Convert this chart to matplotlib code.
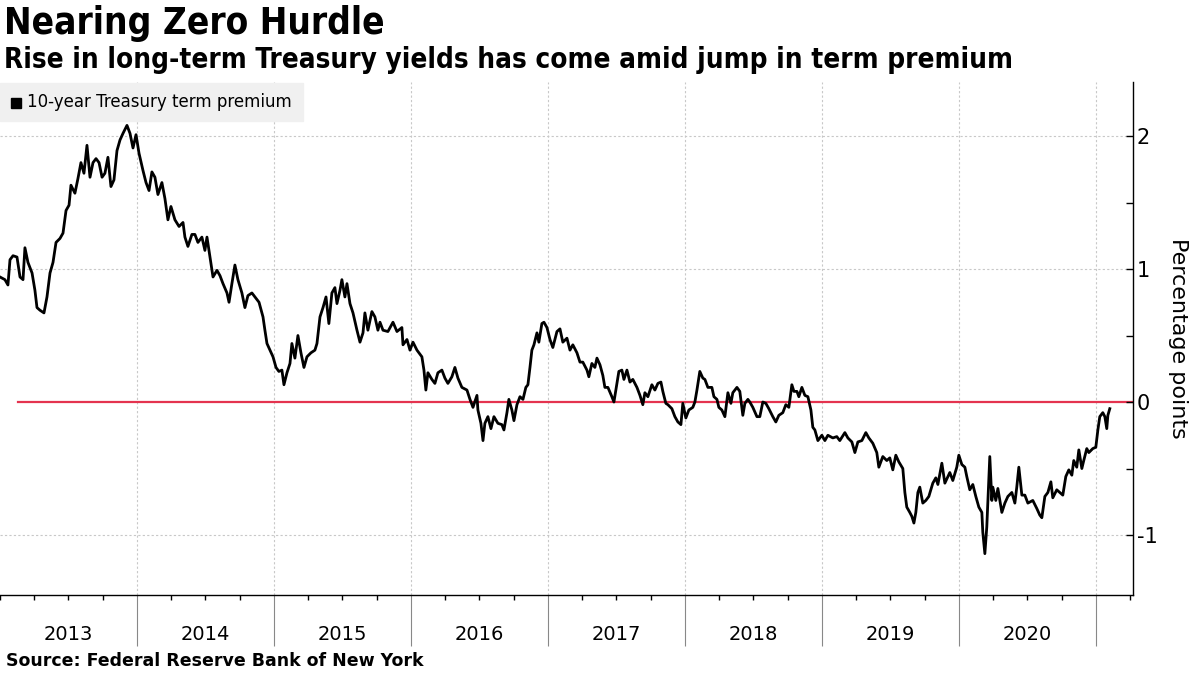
import numpy as np
import matplotlib
matplotlib.use("Agg")
import matplotlib.pyplot as plt
from matplotlib.ticker import FixedLocator, NullFormatter
import matplotlib.transforms as mtransforms

# 10-year Treasury term premium (time in years since 2013-01-01)
years_since_2013 = [
    0.000, 0.036, 0.058, 0.073, 0.095, 0.124, 0.146, 0.168, 0.182, 0.204,
    0.234, 0.255, 0.270, 0.292, 0.321, 0.343, 0.365, 0.387, 0.409, 0.438,
    0.460, 0.482, 0.504, 0.518, 0.547, 0.569, 0.591, 0.613, 0.635, 0.657,
    0.679, 0.701, 0.723, 0.745, 0.766, 0.788, 0.810, 0.832, 0.854, 0.876,
    0.898, 0.927, 0.949, 0.971, 0.993, 1.015, 1.044, 1.066, 1.088, 1.109,
    1.131, 1.153, 1.182, 1.204, 1.226, 1.248, 1.277, 1.307, 1.336, 1.350,
    1.372, 1.401, 1.423, 1.445, 1.474, 1.496, 1.511, 1.533, 1.555, 1.584,
    1.606, 1.628, 1.657, 1.672, 1.693, 1.715, 1.737, 1.766, 1.788, 1.810,
    1.839, 1.861, 1.891, 1.920, 1.934, 1.949, 1.971, 1.993, 2.015, 2.036,
    2.058, 2.073, 2.095, 2.117, 2.131, 2.153, 2.175, 2.197, 2.219, 2.241,
    2.270, 2.299, 2.314, 2.336, 2.358, 2.380, 2.401, 2.423, 2.445, 2.460,
    2.482, 2.496, 2.518, 2.533, 2.555, 2.577, 2.606, 2.628, 2.650, 2.664,
    2.686, 2.715, 2.737, 2.759, 2.774, 2.796, 2.832, 2.869, 2.898, 2.934,
    2.942, 2.971, 2.993, 3.015, 3.044, 3.080, 3.095, 3.109, 3.124, 3.153,
    3.175, 3.197, 3.226, 3.248, 3.270, 3.299, 3.321, 3.343, 3.372, 3.409,
    3.431, 3.453, 3.482, 3.489, 3.511, 3.526, 3.540, 3.562, 3.584, 3.606,
    3.635, 3.664, 3.679, 3.701, 3.715, 3.737, 3.752, 3.774, 3.796, 3.818,
    3.839, 3.854, 3.869, 3.883, 3.898, 3.920, 3.934, 3.956, 3.971, 3.993,
    4.015, 4.036, 4.066, 4.088, 4.109, 4.139, 4.161, 4.182, 4.212, 4.234,
    4.255, 4.285, 4.299, 4.321, 4.343, 4.358, 4.380, 4.401, 4.416, 4.438,
    4.467, 4.482, 4.504, 4.518, 4.540, 4.555, 4.577, 4.599, 4.620, 4.650,
    4.672, 4.693, 4.708, 4.730, 4.759, 4.781, 4.803, 4.825, 4.839, 4.861,
    4.876, 4.905, 4.927, 4.949, 4.971, 4.985, 5.007, 5.029, 5.058, 5.073,
    5.088, 5.109, 5.131, 5.146, 5.168, 5.197, 5.212, 5.234, 5.248, 5.270,
    5.292, 5.314, 5.336, 5.350, 5.380, 5.401, 5.423, 5.438, 5.460, 5.474,
    5.496, 5.526, 5.547, 5.569, 5.591, 5.613, 5.642, 5.664, 5.686, 5.715,
    5.737, 5.759, 5.781, 5.796, 5.818, 5.832, 5.854, 5.876, 5.898, 5.920,
    5.934, 5.949, 5.971, 6.000, 6.022, 6.044, 6.080, 6.109, 6.131, 6.168,
    6.190, 6.219, 6.241, 6.263, 6.292, 6.321, 6.343, 6.372, 6.401, 6.416,
    6.445, 6.474, 6.496, 6.518, 6.540, 6.562, 6.591, 6.606, 6.620, 6.642,
    6.657, 6.672, 6.686, 6.701, 6.715, 6.737, 6.759, 6.781, 6.810, 6.832,
    6.847, 6.876, 6.898, 6.934, 6.956, 6.985, 7.000, 7.022, 7.044, 7.058,
    7.080, 7.102, 7.124, 7.146, 7.168, 7.175, 7.190, 7.204, 7.212, 7.226,
    7.241, 7.248, 7.270, 7.285, 7.314, 7.336, 7.358, 7.387, 7.409, 7.423,
    7.438, 7.460, 7.482, 7.504, 7.540, 7.569, 7.591, 7.606, 7.628, 7.650,
    7.672, 7.686, 7.715, 7.737, 7.759, 7.781, 7.803, 7.825, 7.839, 7.861,
    7.876, 7.898, 7.912, 7.934, 7.949, 7.978, 8.000, 8.015, 8.029, 8.051,
    8.066, 8.080, 8.088, 8.102,
]
term_premium = [
    0.94, 0.92, 0.88, 1.07, 1.10, 1.09, 0.94, 0.92, 1.16, 1.05,
    0.97, 0.84, 0.71, 0.69, 0.67, 0.79, 0.97, 1.05, 1.20, 1.23,
    1.27, 1.44, 1.48, 1.63, 1.57, 1.68, 1.80, 1.72, 1.93, 1.69,
    1.80, 1.83, 1.80, 1.69, 1.72, 1.84, 1.62, 1.67, 1.89, 1.97,
    2.02, 2.08, 2.02, 1.91, 2.01, 1.87, 1.74, 1.65, 1.59, 1.73,
    1.69, 1.56, 1.65, 1.53, 1.37, 1.47, 1.37, 1.32, 1.35, 1.24,
    1.17, 1.26, 1.26, 1.20, 1.24, 1.14, 1.24, 1.09, 0.94, 0.99,
    0.95, 0.89, 0.82, 0.75, 0.89, 1.03, 0.92, 0.82, 0.71, 0.80,
    0.82, 0.79, 0.75, 0.64, 0.54, 0.44, 0.39, 0.34, 0.26, 0.23,
    0.24, 0.13, 0.22, 0.29, 0.44, 0.33, 0.50, 0.37, 0.26, 0.34,
    0.37, 0.39, 0.44, 0.64, 0.71, 0.79, 0.59, 0.82, 0.86, 0.74,
    0.84, 0.92, 0.79, 0.89, 0.74, 0.67, 0.54, 0.45, 0.52, 0.67,
    0.54, 0.68, 0.64, 0.54, 0.60, 0.54, 0.53, 0.60, 0.53, 0.56,
    0.43, 0.47, 0.39, 0.45, 0.39, 0.34, 0.24, 0.09, 0.22, 0.17,
    0.14, 0.22, 0.24, 0.18, 0.14, 0.19, 0.26, 0.18, 0.11, 0.09,
    0.02, -0.04, 0.05, -0.06, -0.16, -0.29, -0.16, -0.11, -0.20, -0.11,
    -0.16, -0.17, -0.21, -0.08, 0.02, -0.06, -0.14, -0.02, 0.04, 0.02,
    0.11, 0.13, 0.26, 0.39, 0.43, 0.52, 0.45, 0.59, 0.60, 0.56,
    0.47, 0.41, 0.53, 0.55, 0.45, 0.48, 0.39, 0.43, 0.37, 0.30,
    0.30, 0.24, 0.19, 0.29, 0.26, 0.33, 0.28, 0.20, 0.11, 0.11,
    0.04, 0.00, 0.14, 0.23, 0.24, 0.17, 0.24, 0.15, 0.17, 0.11,
    0.05, -0.02, 0.07, 0.04, 0.13, 0.09, 0.14, 0.15, 0.08, -0.01,
    -0.02, -0.05, -0.11, -0.15, -0.17, -0.01, -0.12, -0.06, -0.04, 0.00,
    0.09, 0.23, 0.18, 0.17, 0.11, 0.11, 0.04, 0.02, -0.04, -0.06,
    -0.11, 0.07, -0.01, 0.07, 0.11, 0.08, -0.10, -0.01, 0.02, 0.00,
    -0.04, -0.11, -0.11, 0.00, -0.01, -0.05, -0.11, -0.15, -0.10, -0.08,
    -0.02, -0.04, 0.13, 0.08, 0.08, 0.04, 0.11, 0.05, 0.04, -0.06,
    -0.19, -0.21, -0.29, -0.25, -0.29, -0.25, -0.27, -0.26, -0.29, -0.23,
    -0.27, -0.30, -0.38, -0.30, -0.29, -0.23, -0.27, -0.31, -0.38, -0.49,
    -0.41, -0.44, -0.42, -0.51, -0.40, -0.45, -0.50, -0.68, -0.79, -0.83,
    -0.86, -0.91, -0.83, -0.68, -0.64, -0.76, -0.74, -0.71, -0.61, -0.57,
    -0.62, -0.46, -0.61, -0.53, -0.59, -0.49, -0.40, -0.47, -0.49, -0.56,
    -0.66, -0.62, -0.71, -0.79, -0.83, -0.98, -1.14, -0.94, -0.74, -0.41,
    -0.74, -0.64, -0.74, -0.65, -0.83, -0.76, -0.71, -0.68, -0.76, -0.64,
    -0.49, -0.70, -0.70, -0.76, -0.74, -0.80, -0.85, -0.87, -0.71, -0.68,
    -0.60, -0.72, -0.66, -0.68, -0.70, -0.56, -0.51, -0.55, -0.44, -0.49,
    -0.36, -0.50, -0.44, -0.35, -0.38, -0.35, -0.34, -0.21, -0.11, -0.08,
    -0.11, -0.20, -0.10, -0.05,
]
year_labels = ["2013", "2014", "2015", "2016", "2017", "2018", "2019", "2020"]

t = 2013 + np.array(years_since_2013)
y = np.array(term_premium)

fig = plt.figure(figsize=(12, 6.75), dpi=100)
ax = fig.add_axes([0.0, 0.1185, 0.944, 0.76])

# grid + zero line
for yr in range(2014, 2022):
    ax.axvline(yr, color="#c8c8c8", lw=0.8, ls=(0, (2, 2)), zorder=0)
for lev in [-1, 1, 2]:
    ax.axhline(lev, color="#c8c8c8", lw=0.8, ls=(0, (2, 2)), zorder=0)
ax.axhline(0, xmin=0.016, color="#e4334f", lw=1.6, zorder=1)

ax.plot(t, y, color="black", lw=2.0, zorder=2, label="10-year Treasury term premium")

ax.set_xlim(2013.0, 2021.27)
ax.set_ylim(-1.451, 2.406)

for s in ["left", "top"]:
    ax.spines[s].set_visible(False)
ax.spines["right"].set_linewidth(1.0)
ax.spines["bottom"].set_linewidth(1.0)

# y axis on the right
ax.yaxis.tick_right()
ax.yaxis.set_label_position("right")
ax.set_yticks([-1, 0, 1, 2])
ax.set_yticklabels(["-1", "0", "1", "2"])
ax.yaxis.set_minor_locator(FixedLocator([-0.5, 0.5, 1.5]))
ax.tick_params(axis="y", which="both", direction="in", length=5, width=1,
               labelsize=15, pad=3, left=False, right=True)
ax.set_ylabel("Percentage points", rotation=270, fontsize=16, labelpad=22)

# x axis: long gray year separators, short quarterly ticks, centred year labels
ax.xaxis.set_major_locator(FixedLocator(list(range(2014, 2022))))
ax.xaxis.set_major_formatter(NullFormatter())
quarters = [yr + q / 4 for yr in range(2013, 2022) for q in range(4)]
ax.xaxis.set_minor_locator(FixedLocator(quarters))
ax.tick_params(axis="x", which="major", direction="out", length=37, width=0.8, color="#888888")
ax.tick_params(axis="x", which="minor", direction="out", length=3.6, width=1, color="black")

trans = mtransforms.blended_transform_factory(ax.transData, fig.transFigure)
for i, lab in enumerate(year_labels):
    ax.text(2013.5 + i, 1 - 634 / 675, lab, transform=trans, ha="center", va="center", fontsize=14)

# legend box
fig.patches.append(plt.Rectangle((0, 1 - 121 / 675), 303 / 1200, 38 / 675,
                                 transform=fig.transFigure, color="#f0f0f0", zorder=5))
fig.patches.append(plt.Rectangle((11 / 1200, 1 - 108 / 675), 10 / 1200, 10 / 675,
                                 transform=fig.transFigure, color="black", zorder=6))
fig.text(27 / 1200, 1 - 102 / 675, "10-year Treasury term premium", fontsize=12, va="center", zorder=7)

# titles
fig.text(4 / 1200, 1 - 23 / 675, "Nearing Zero Hurdle", fontsize=26.5, fontweight="bold",
         va="center", fontstretch="condensed")
fig.text(4 / 1200, 1 - 60 / 675, "Rise in long-term Treasury yields has come amid jump in term premium",
         fontsize=20, fontweight="bold", va="center", fontstretch="condensed")
fig.text(6 / 1200, 1 - 661 / 675, "Source: Federal Reserve Bank of New York", fontsize=12.5,
         fontweight="bold", va="center")

fig.savefig("out.png", dpi=100)
